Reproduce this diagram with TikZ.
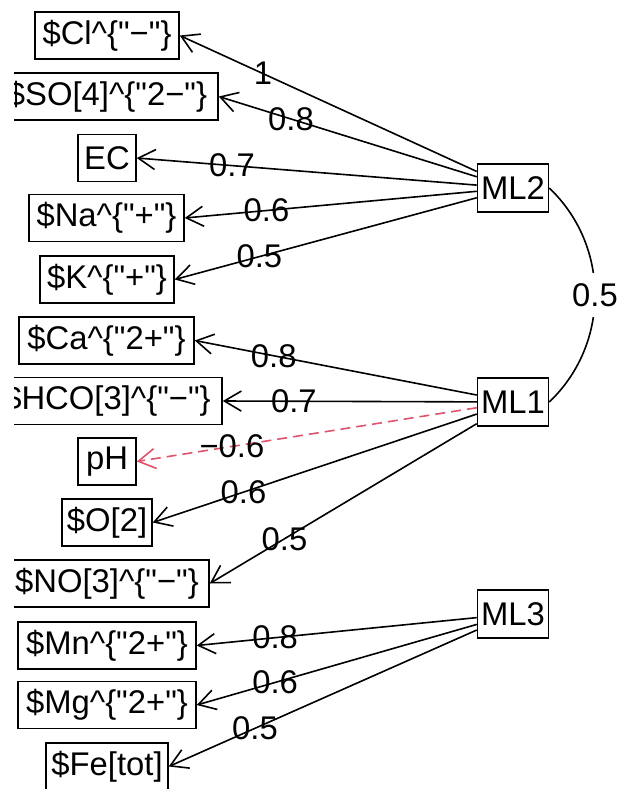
\documentclass[tikz,border=0pt]{standalone}
\usepackage{fontspec}
\setmainfont{Liberation Sans}
\usetikzlibrary{arrows.meta}
\definecolor{negred}{HTML}{DF536B}
\newcommand{\dq}{\textquotedbl}
\begin{document}
\begin{tikzpicture}[x=1pt,y=-1pt,
  bigfont/.style={font=\fontsize{32.8}{39}\selectfont},
  box/.style={draw, line width=1.5pt, minimum height=47pt, inner sep=0pt, bigfont},
  lam/.style={bigfont, inner sep=0pt, text=black},
  ld/.style={line width=1.6pt, -{Straight Barb[length=17pt,width=20pt]}},
  neg/.style={ld, draw=negred, dash pattern=on 10pt off 6pt}]
\useasboundingbox (0,0) rectangle (621,789);
\begin{scope}
\clip (14,0) rectangle (621,789);
% factors
\node[box, minimum width=71pt, minimum height=48pt] (ML2) at (513,188) {ML2};
\node[box, minimum width=71pt, minimum height=48pt] (ML1) at (513,402) {ML1};
\node[box, minimum width=71pt, minimum height=48pt] (ML3) at (513,614) {ML3};
% variables
\node[box, minimum width=144pt] (Cl) at (107,35.5) {\$Cl\textasciicircum\{\dq−\dq\}};
\node[box, minimum width=222pt] (SO) at (107,96.5) {\$SO[4]\textasciicircum\{\dq2−\dq\}};
\node[box, minimum width=58pt] (EC) at (107,158) {EC};
\node[box, minimum width=155pt] (Na) at (106.5,218) {\$Na\textasciicircum\{\dq+\dq\}};
\node[box, minimum width=134pt] (K) at (107,279.5) {\$K\textasciicircum\{\dq+\dq\}};
\node[box, minimum width=175pt] (Ca) at (106.5,340.5) {\$Ca\textasciicircum\{\dq2+\dq\}};
\node[box, minimum width=230pt] (HCO) at (107,401) {\$HCO[3]\textasciicircum\{\dq−\dq\}};
\node[box, minimum width=58pt] (pH) at (107,461.5) {pH};
\node[box, minimum width=90pt] (O) at (107,522.5) {\$O[2]};
\node[box, minimum width=204pt] (NO) at (107,583.5) {\$NO[3]\textasciicircum\{\dq−\dq\}};
\node[box, minimum width=178pt] (Mn) at (107,645.5) {\$Mn\textasciicircum\{\dq2+\dq\}};
\node[box, minimum width=178pt] (Mg) at (107,705) {\$Mg\textasciicircum\{\dq2+\dq\}};
\node[box, minimum width=122pt] (Fe) at (107,766.5) {\$Fe[tot]};
% loadings ML2
\draw[ld] (ML2) -- (Cl.east) node[lam, pos=0.72] {1};
\draw[ld] (ML2) -- (SO.east) node[lam, pos=0.72] {0.8};
\draw[ld] (ML2) -- (EC.east) node[lam, pos=0.72] {0.7};
\draw[ld] (ML2) -- (Na.east) node[lam, pos=0.72] {0.6};
\draw[ld] (ML2) -- (K.east) node[lam, pos=0.72] {0.5};
% loadings ML1
\draw[ld] (ML1) -- (Ca.east) node[lam, pos=0.72] {0.8};
\draw[ld] (ML1) -- (HCO.east) node[lam, pos=0.72] {0.7};
\draw[neg] (ML1) -- (pH.east) node[lam, pos=0.72] {−0.6};
\draw[ld] (ML1) -- (O.east) node[lam, pos=0.72] {0.6};
\draw[ld] (ML1) -- (NO.east) node[lam, pos=0.72] {0.5};
% loadings ML3
\draw[ld] (ML3) -- (Mn.east) node[lam, pos=0.72] {0.8};
\draw[ld] (ML3) -- (Mg.east) node[lam, pos=0.72] {0.6};
\draw[ld] (ML3) -- (Fe.east) node[lam, pos=0.72] {0.5};
% factor correlation
\draw[line width=1.6pt] (ML2.east) .. controls +(61,58) and +(61,-58) .. (ML1.east)
  node[midway, bigfont, fill=white, inner xsep=1pt, inner ysep=10pt] (r12) {0.5};
\end{scope}
\end{tikzpicture}
\end{document}
